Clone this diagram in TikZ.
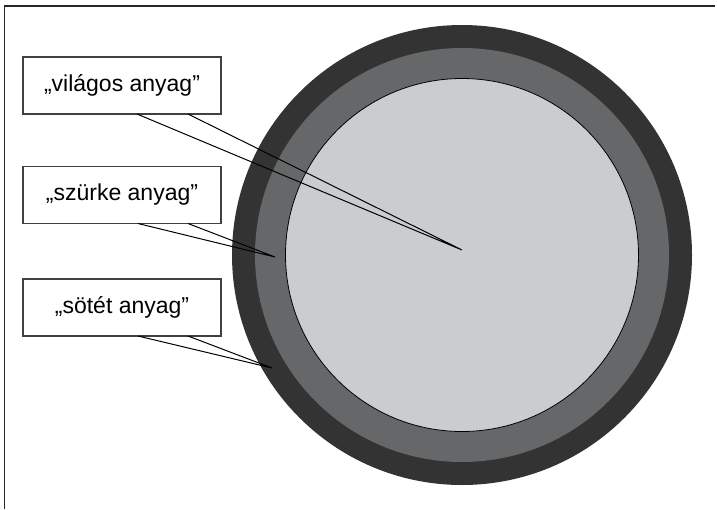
\documentclass[tikz,border=0pt]{standalone}
\usepackage{fontspec}
\setmainfont{Liberation Sans}
\definecolor{darkring}{HTML}{333333}
\definecolor{grayring}{HTML}{666769}
\definecolor{lightcore}{HTML}{CBCCCE}
\definecolor{boxline}{HTML}{404040}
\begin{document}
\begin{tikzpicture}[x=1pt,y=-1pt,
  labelbox/.style={draw=boxline,line width=1.4pt,fill=white,minimum width=198pt,minimum height=57pt,inner sep=0pt,font=\fontsize{23}{27}\selectfont},
  pointer/.style={draw=black,line width=1pt}]
\useasboundingbox (0,0) rectangle (717,509);
% frame (top and left)
\draw[line width=1.2pt,black!85] (4.5,509) -- (4.5,6) -- (715,6);
% circles
\fill[darkring] (462,255) circle (230);
\fill[grayring] (462,255) circle (207);
\draw[fill=lightcore,line width=0.8pt] (462,255) circle (176.5);
% boxes
\node[labelbox] (b1) at (122,85.5) {„világos anyag”};
\node[labelbox] (b2) at (122,195) {„szürke anyag”};
\node[labelbox] (b3) at (122,307.5) {„sötét anyag”};
% pointer tips
\coordinate (t1) at (462,250);
\coordinate (t2) at (275,257);
\coordinate (t3) at (272,368);
\coordinate (b1l) at (137,114);
\coordinate (b1r) at (188,114);
\coordinate (b2l) at (138,223.5);
\coordinate (b2r) at (188,223.5);
\coordinate (b3l) at (138,336);
\coordinate (b3r) at (188,336);
\draw[pointer] (b1l) -- (t1) -- (b1r);
\draw[pointer] (b2l) -- (t2) -- (b2r);
\draw[pointer] (b3l) -- (t3) -- (b3r);
\end{tikzpicture}
\end{document}
